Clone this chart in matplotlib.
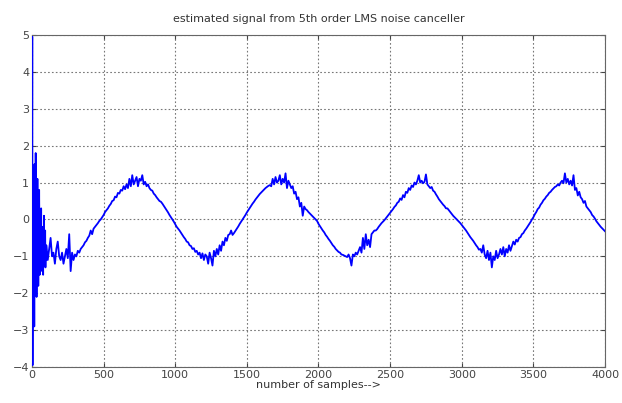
import numpy as np
import matplotlib
matplotlib.use('Agg')
import matplotlib.pyplot as plt

# sample positions: dense over the start-up transient, then every 10 samples
start_samples = np.arange(0, 100, 2)
main_samples = np.arange(100, 4001, 10)

# estimated signal, samples 0..98 (step 2)
start_vals = [
    0.0, 4.95, -3.95, 1.4, -1.8, 1.2, -1.5, 0.9, -2.9, 1.5,
    -1.2, 0.6, -1.6, 1.8, -0.9, 1.0, -2.1, 0.4, -1.3, 1.1,
    -0.7, 0.5, -1.8, 0.2, -1.4, 0.8, -0.6, -1.5, 0.1, -1.1,
    -0.3, -1.4, 0.3, -1.0, -0.5, -1.3, -0.2, -1.1, -0.7, -1.5,
    -0.4, -0.9, 0.1, -1.2, -0.6, -1.0, -0.3, -1.3, -0.8, -1.1,
]

# samples 100..4000 (step 10)
main_vals = [
    -0.7, -1.1, -0.8, -0.5, -1.0, -0.9, -1.2, -0.8, -0.6, -1.0,
    -1.1, -0.9, -1.2, -1.0, -0.8, -1.05, -0.4, -1.4, -0.9, -1.1,
    -0.95, -1.0, -0.85, -0.9, -0.8, -0.75, -0.7, -0.62, -0.58, -0.5,
    -0.44, -0.3, -0.4, -0.25, -0.2, -0.15, -0.1, -0.04, 0.0, 0.06,
    0.12, 0.2, 0.25, 0.3, 0.37, 0.42, 0.5, 0.52, 0.62, 0.6,
    0.72, 0.7, 0.8, 0.78, 0.9, 0.82, 0.95, 0.85, 1.1, 0.9,
    1.2, 0.95, 1.05, 1.15, 0.9, 1.1, 1.05, 1.2, 0.95, 1.02,
    0.9, 0.95, 0.85, 0.8, 0.78, 0.7, 0.66, 0.6, 0.55, 0.5,
    0.48, 0.43, 0.37, 0.31, 0.25, 0.19, 0.12, 0.06, 0.0, -0.06,
    -0.13, -0.2, -0.25, -0.3, -0.36, -0.42, -0.48, -0.53, -0.6, -0.62,
    -0.7, -0.72, -0.8, -0.78, -0.88, -0.85, -0.95, -0.9, -1.05, -0.92,
    -1.1, -0.95, -1.0, -1.2, -0.9, -1.05, -1.25, -0.85, -1.0, -0.8,
    -0.95, -0.7, -0.85, -0.6, -0.7, -0.5, -0.58, -0.42, -0.4, -0.3,
    -0.42, -0.37, -0.31, -0.25, -0.19, -0.12, -0.06, 0.0, 0.06, 0.12,
    0.19, 0.25, 0.31, 0.37, 0.43, 0.48, 0.54, 0.59, 0.64, 0.69,
    0.73, 0.77, 0.81, 0.85, 0.88, 0.91, 0.93, 0.9, 1.1, 0.95,
    1.15, 1.0, 1.05, 1.2, 0.95, 1.1, 1.0, 1.25, 0.85, 1.05,
    0.95, 0.85, 0.9, 0.7, 0.75, 0.55, 0.6, 0.35, 0.45, 0.1,
    0.35, 0.28, 0.25, 0.2, 0.16, 0.12, 0.08, 0.04, 0.0, -0.04,
    -0.12, -0.18, -0.24, -0.3, -0.35, -0.42, -0.47, -0.53, -0.58, -0.64,
    -0.7, -0.74, -0.8, -0.84, -0.88, -0.9, -0.95, -0.96, -0.98, -1.0,
    -1.02, -0.95, -1.05, -1.25, -0.95, -1.0, -0.9, -0.95, -0.85, -0.75,
    -0.9, -0.5, -0.8, -0.4, -0.7, -0.55, -0.75, -0.4, -0.35, -0.3,
    -0.3, -0.26, -0.2, -0.15, -0.1, -0.06, -0.02, 0.03, 0.08, 0.13,
    0.18, 0.23, 0.28, 0.34, 0.38, 0.45, 0.48, 0.57, 0.53, 0.66,
    0.6, 0.75, 0.72, 0.85, 0.8, 0.92, 0.88, 1.0, 0.95, 1.05,
    1.2, 1.0, 1.05, 0.98, 1.02, 1.22, 0.95, 0.9, 0.85, 0.88,
    0.78, 0.75, 0.68, 0.62, 0.55, 0.5, 0.45, 0.4, 0.36, 0.3,
    0.3, 0.25, 0.2, 0.15, 0.1, 0.06, 0.02, -0.02, -0.06, -0.1,
    -0.15, -0.2, -0.25, -0.3, -0.36, -0.42, -0.48, -0.53, -0.58, -0.64,
    -0.7, -0.75, -0.82, -0.8, -0.9, -0.7, -0.95, -1.05, -0.85, -1.1,
    -0.9, -1.3, -1.0, -1.1, -0.85, -1.05, -0.95, -0.8, -0.95, -0.75,
    -1.0, -0.8, -0.9, -0.7, -0.85, -0.72, -0.6, -0.68, -0.55, -0.6,
    -0.5, -0.48, -0.4, -0.37, -0.3, -0.25, -0.19, -0.13, -0.07, 0.0,
    0.06, 0.14, 0.2, 0.28, 0.32, 0.4, 0.45, 0.52, 0.56, 0.62,
    0.66, 0.72, 0.75, 0.8, 0.84, 0.88, 0.9, 0.95, 0.92, 1.0,
    1.05, 0.98, 1.25, 1.0, 1.1, 0.95, 1.05, 0.92, 1.2, 0.8,
    0.85, 0.65, 0.75, 0.6, 0.55, 0.45, 0.5, 0.35, 0.3, 0.25,
    0.2, 0.12, 0.08, 0.02, -0.05, -0.1, -0.15, -0.2, -0.24, -0.28,
    -0.32,
]

x_ticks = [0, 500, 1000, 1500, 2000, 2500, 3000, 3500, 4000]
y_ticks = [-4, -3, -2, -1, 0, 1, 2, 3, 4, 5]

samples = np.concatenate([start_samples, main_samples])
signal = np.array(start_vals + main_vals)

fig = plt.figure(figsize=(6.22, 4.03), dpi=100)
ax = fig.add_axes([0.0514, 0.0893, 0.9213, 0.8239])

ax.plot(samples, signal, color='#0000ff', linewidth=1.3, zorder=3)

ax.set_xlim(0, 4000)
ax.set_ylim(-4, 5)
ax.set_xticks(x_ticks)
ax.set_yticks(y_ticks)
ax.grid(True, linestyle=(0, (1.5, 2)), color='#777777', linewidth=0.8)
ax.tick_params(direction='in', length=3, labelsize=8, colors='#444444',
               top=True, right=True, pad=2)
for sp in ax.spines.values():
    sp.set_color('#666666')
    sp.set_linewidth(0.8)

ax.set_title('estimated signal from 5th order LMS noise canceller',
             fontsize=8, color='#333333', pad=9)
ax.set_xlabel('number of samples-->', fontsize=8, color='#333333', labelpad=0)

fig.savefig('out.png', dpi=100)
